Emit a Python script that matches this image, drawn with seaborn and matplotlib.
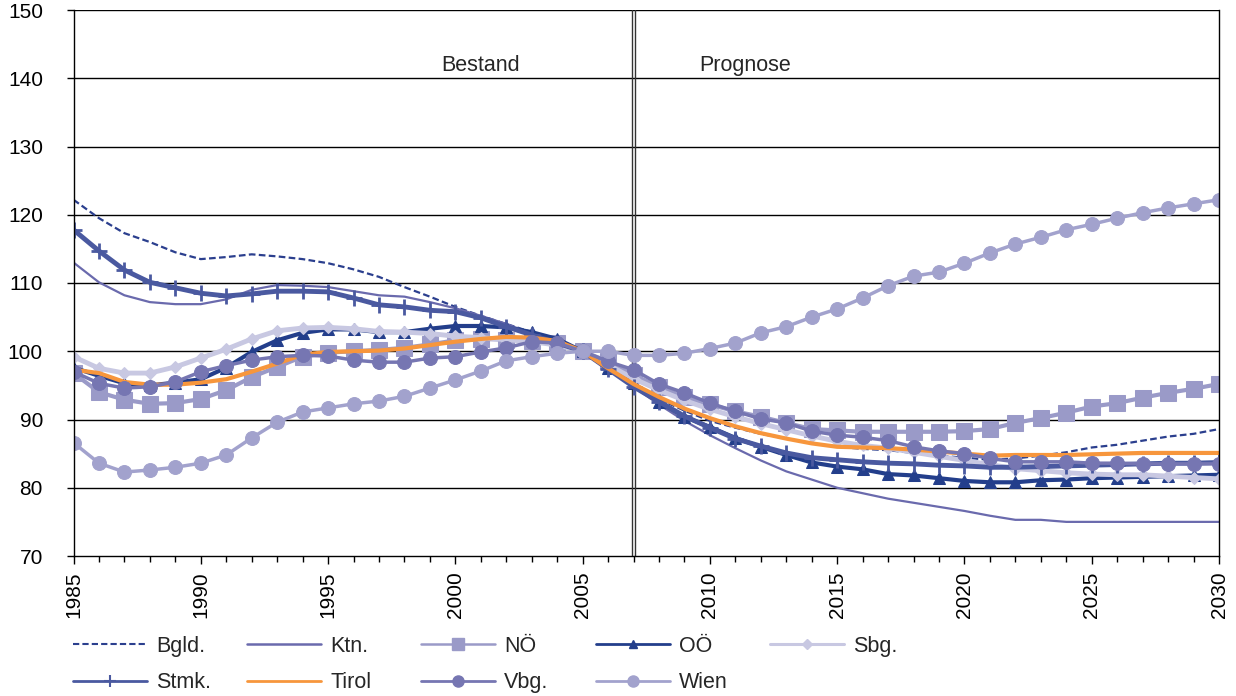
import matplotlib
matplotlib.use("Agg")
import matplotlib.pyplot as plt
from matplotlib.lines import Line2D
import seaborn as sns

years = list(range(1985, 2031))

bgld = [122.2, 119.5, 117.3, 116.0, 114.5, 113.5, 113.8, 114.2, 113.9, 113.5,
        112.9, 112.0, 110.9, 109.4, 108.0, 106.5, 105.2, 104.0, 102.8, 101.5,
        100.0, 97.5, 95.0, 93.0, 91.3, 89.8, 88.8, 87.9, 87.2, 86.5,
        86.0, 85.7, 85.5, 85.1, 84.7, 84.4, 84.1, 84.3, 84.7, 85.2,
        85.9, 86.3, 86.9, 87.5, 87.9, 88.6]
ktn = [113.0, 110.1, 108.2, 107.2, 106.9, 106.9, 107.6, 109.0, 109.7, 109.6,
       109.4, 108.8, 108.2, 108.0, 107.2, 106.3, 105.2, 104.0, 102.6, 101.3,
       100.0, 97.5, 94.8, 92.2, 89.8, 87.7, 85.8, 84.0, 82.4, 81.2,
       80.0, 79.2, 78.4, 77.8, 77.2, 76.6, 75.9, 75.3, 75.3, 75.0,
       75.0, 75.0, 75.0, 75.0, 75.0, 75.0]
noe = [96.8, 94.0, 92.9, 92.3, 92.4, 93.0, 94.3, 96.2, 97.7, 99.2,
       99.8, 100.0, 100.2, 100.5, 101.0, 101.6, 101.8, 101.7, 101.5, 101.2,
       100.0, 98.5, 96.5, 94.8, 93.3, 92.2, 91.2, 90.4, 89.5, 88.6,
       88.4, 88.2, 88.2, 88.2, 88.2, 88.3, 88.6, 89.5, 90.2, 91.0,
       91.9, 92.4, 93.2, 93.9, 94.5, 95.2]
ooe = [97.6, 96.4, 95.3, 95.0, 95.4, 95.9, 97.6, 99.9, 101.6, 102.7,
       103.2, 103.2, 102.8, 102.8, 103.3, 103.7, 103.7, 103.5, 102.8, 101.8,
       100.0, 97.5, 95.3, 92.6, 90.4, 88.9, 87.3, 86.0, 84.8, 83.7,
       83.1, 82.7, 82.0, 81.8, 81.4, 81.0, 80.8, 80.8, 81.1, 81.2,
       81.4, 81.5, 81.6, 81.7, 81.8, 81.9]
sbg = [99.2, 97.5, 96.8, 96.8, 97.7, 99.0, 100.3, 101.8, 103.0, 103.4,
       103.5, 103.3, 102.9, 102.8, 102.6, 102.2, 102.0, 101.7, 101.4, 100.9,
       100.0, 98.0, 96.0, 94.3, 92.8, 91.5, 90.4, 89.4, 88.5, 87.6,
       86.8, 86.2, 85.8, 85.2, 84.6, 84.0, 83.4, 82.8, 82.5, 82.2,
       82.0, 81.9, 81.9, 81.7, 81.5, 81.3]
stmk = [117.8, 114.7, 111.9, 110.1, 109.3, 108.5, 108.1, 108.4, 108.8, 108.8,
        108.7, 107.8, 106.8, 106.5, 106.0, 105.8, 104.9, 103.6, 102.4, 101.2,
        100.0, 97.4, 94.8, 92.6, 90.5, 88.8, 87.2, 86.1, 85.1, 84.4,
        84.1, 83.8, 83.6, 83.5, 83.3, 83.2, 83.0, 83.0, 83.1, 83.2,
        83.3, 83.4, 83.5, 83.6, 83.6, 83.7]
tirol = [97.3, 96.8, 95.5, 95.1, 95.1, 95.4, 95.9, 97.0, 98.2, 99.5,
         99.9, 100.0, 100.1, 100.4, 100.9, 101.4, 101.8, 102.1, 102.0, 101.5,
         100.0, 97.5, 95.2, 93.3, 91.6, 90.2, 89.0, 88.0, 87.2, 86.5,
         86.0, 85.9, 85.8, 85.6, 85.3, 85.0, 84.7, 84.8, 84.8, 84.8,
         84.9, 85.0, 85.1, 85.1, 85.1, 85.1]
vbg = [97.0, 95.3, 94.6, 94.8, 95.5, 97.0, 97.9, 98.7, 99.2, 99.4,
       99.3, 98.7, 98.4, 98.4, 99.0, 99.2, 99.9, 100.5, 101.4, 101.2,
       100.0, 98.5, 97.3, 95.2, 93.9, 92.4, 91.2, 90.1, 89.5, 88.3,
       87.7, 87.4, 86.9, 86.0, 85.4, 85.0, 84.3, 83.8, 83.8, 83.8,
       83.6, 83.6, 83.5, 83.5, 83.5, 83.5]
wien = [86.6, 83.6, 82.3, 82.6, 83.0, 83.6, 84.8, 87.3, 89.6, 91.1,
        91.7, 92.3, 92.7, 93.4, 94.6, 95.8, 97.1, 98.6, 99.2, 99.7,
        100.0, 100.0, 99.4, 99.4, 99.7, 100.4, 101.2, 102.7, 103.6, 105.0,
        106.2, 107.8, 109.6, 111.0, 111.6, 112.9, 114.4, 115.7, 116.7, 117.8,
        118.6, 119.5, 120.3, 121.0, 121.6, 122.2]

# name, data, plot style, legend style
series = [
    ("Bgld.", bgld, dict(color="#2b3f8e", lw=1.6, ls=(0, (3, 1.5))), dict(lw=1.5)),
    ("Ktn.", ktn, dict(color="#6a6aad", lw=1.6), dict(lw=1.8)),
    ("NÖ", noe, dict(color="#9a9ac8", lw=3, marker="s", ms=11), dict(lw=1.8, ms=8)),
    ("OÖ", ooe, dict(color="#233e8b", lw=3, marker="^", ms=8), dict(lw=2, ms=6)),
    ("Sbg.", sbg, dict(color="#c8c8e2", lw=3.5, marker="D", ms=6.5), dict(lw=2.2, ms=5)),
    ("Stmk.", stmk, dict(color="#4a59a0", lw=3.5, marker="+", ms=12, mew=2), dict(lw=2, ms=9, mew=1.5)),
    ("Tirol", tirol, dict(color="#f7963c", lw=3), dict(lw=2)),
    ("Vbg.", vbg, dict(color="#7676b2", lw=2.5, marker="o", ms=10), dict(lw=2, ms=8)),
    ("Wien", wien, dict(color="#a2a2cd", lw=2.5, marker="o", ms=10), dict(lw=2, ms=8)),
]

sns.set_style("ticks")
plt.rcParams["font.family"] = ["Liberation Sans", "DejaVu Sans"]

W, H = 1236, 696
fig = plt.figure(figsize=(W / 100, H / 100), dpi=100)
ax = fig.add_axes([73.5 / W, 1 - 556 / H, (1219 - 73.5) / W, 546 / H])

# horizontal grid
for v in range(80, 151, 10):
    ax.axhline(v, color="black", lw=1, zorder=0)

# Bestand / Prognose divider (double line)
ax.axvline(2006.93, color="#333333", lw=1, zorder=0)
ax.axvline(2007.04, color="#333333", lw=1, zorder=0)

for name, vals, style, _ in series:
    sns.lineplot(x=years, y=vals, ax=ax, mec=style["color"], legend=False, **style)

ax.set_xlim(1985, 2030)
ax.set_ylim(70, 150)
ax.set_yticks(range(70, 151, 10))
ax.set_xticks(range(1985, 2031, 5))
ax.set_xticks(range(1985, 2031), minor=True)
ax.tick_params(axis="x", which="major", length=6, width=1, labelsize=15, rotation=90, colors="black", pad=5)
ax.tick_params(axis="x", which="minor", length=4.3, width=1, colors="black")
ax.tick_params(axis="y", length=5, width=1, labelsize=15, pad=17, colors="black")
for side in ["left", "bottom", "right"]:
    ax.spines[side].set_color("black")
    ax.spines[side].set_linewidth(1)
ax.spines["top"].set_visible(False)
ax.set_xlabel("")
ax.set_ylabel("")

ax.text(2001.0, 141.8, "Bestand", ha="center", va="center", fontsize=15.5)
ax.text(2011.4, 141.8, "Prognose", ha="center", va="center", fontsize=15.5)

# legend: five fixed-width columns, two rows
col_x = [73, 247, 421, 596, 770]
for c, x0 in enumerate(col_x):
    items = [series[c]] + ([series[c + 5]] if c + 5 < len(series) else [])
    hs, ls = [], []
    for name, _, style, lstyle in items:
        st = {k: v for k, v in style.items() if k not in ("lw", "ms", "mew")}
        st.update(lstyle)
        hs.append(Line2D([], [], mec=style["color"], **st))
        ls.append(name)
    fig.legend(hs, ls, loc="upper left", bbox_to_anchor=(x0 / W, 1 - 636 / H),
               frameon=False, fontsize=15.5, handlelength=3.45, handletextpad=0.42,
               labelspacing=0.7, borderpad=0, borderaxespad=0)

fig.savefig("out.png", dpi=100)
